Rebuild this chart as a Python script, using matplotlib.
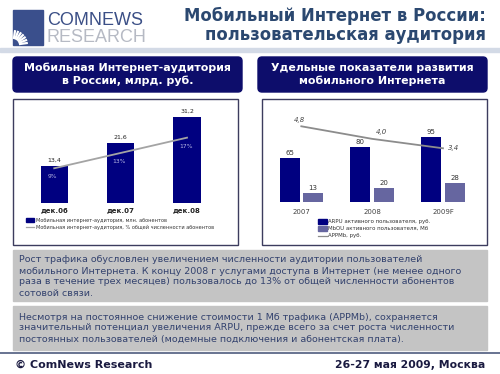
import matplotlib
matplotlib.use("Agg")
import matplotlib.pyplot as plt
import numpy as np
from matplotlib.patches import Rectangle, FancyBboxPatch

# ---------------- data ----------------
left_categories = ['дек.06', 'дек.07', 'дек.08']
audience_mln = [13.4, 21.6, 31.2]
audience_pct = [9, 13, 17]

right_categories = ['2007', '2008', '2009F']
arpu_rub = [65, 80, 95]
mbou_mb = [13, 20, 28]
appmb_rub = [4.8, 4.0, 3.4]

title_lines = ['Мобильный Интернет в России:', 'пользовательская аудитория']
left_header = 'Мобильная Интернет-аудитория\nв России, млрд. руб.'
right_header = 'Удельные показатели развития\nмобильного Интернета'
left_legend = ['Мобильная интернет-аудитория, млн. абонентов',
               'Мобильная интернет-аудитория, % общей численности абонентов']
right_legend = ['ARPU активного пользователя, руб.',
                'MbOU активного пользователя, Мб',
                'APPMb, руб.']
box1_lines = ['Рост трафика обусловлен увеличением численности аудитории пользователей',
              'мобильного Интернета. К концу 2008 г услугами доступа в Интернет (не менее одного',
              'раза в течение трех месяцев) пользовалось до 13% от общей численности абонентов',
              'сотовой связи.']
box2_lines = ['Несмотря на постоянное снижение стоимости 1 Мб трафика (APPMb), сохраняется',
              'значительный потенциал увеличения ARPU, прежде всего за счет роста численности',
              'постоянных пользователей (модемные подключения и абонентская плата).']
footer_left = '© ComNews Research'
footer_right = '26-27 мая 2009, Москва'

# ---------------- figure ----------------
W, H = 500, 374
fig = plt.figure(figsize=(W / 100, H / 100), dpi=100)
fig.patch.set_facecolor('white')

bg = fig.add_axes([0, 0, 1, 1])
bg.set_xlim(0, W)
bg.set_ylim(H, 0)
bg.axis('off')
bg.set_zorder(0)

def px_axes(x0, y0, x1, y1):
    return fig.add_axes([x0 / W, 1 - y1 / H, (x1 - x0) / W, (y1 - y0) / H])

NAVY = '#000080'
SLATE = '#6666a0'
TXT = '#33426e'

# logo
bg.add_patch(Rectangle((13, 10), 30, 35, color='#3a4f8c', zorder=1))
for ang in np.linspace(8, 82, 7):
    a = np.deg2rad(ang)
    bg.plot([13 + 6 * np.cos(a), 13 + 15 * np.cos(a)],
            [45 - 6 * np.sin(a), 45 - 15 * np.sin(a)],
            color='white', lw=1.6, solid_capstyle='butt', zorder=2)
bg.text(47, 20, 'COMNEWS', fontsize=13, family='Liberation Sans', color='#3b4f86',
        ha='left', va='center')
bg.text(47, 37, 'RESEARCH', fontsize=13, family='Liberation Sans', color='#b6bac4',
        ha='left', va='center')

# title
bg.text(486, 16, title_lines[0], fontsize=11.9, fontweight='bold', color='#2b4870',
        ha='right', va='center', family='DejaVu Sans')
bg.text(486, 35, title_lines[1], fontsize=11.9, fontweight='bold', color='#2b4870',
        ha='right', va='center', family='DejaVu Sans')

# separator band
bg.add_patch(Rectangle((0, 47.5), W, 4.5, color='#d3dae6', zorder=1))

# header boxes
for (x0, x1, txt) in [(13, 242, left_header), (258, 487, right_header)]:
    bg.add_patch(FancyBboxPatch((x0, 57), x1 - x0, 35,
                                boxstyle='round,pad=0,rounding_size=4',
                                facecolor='#0d0d6b', edgecolor='#0d0d6b', zorder=1))
    bg.text((x0 + x1) / 2, 74.5, txt, fontsize=7.9, fontweight='bold', color='white',
            ha='center', va='center', linespacing=1.3)

# chart panels
for (x0, x1) in [(13, 238), (262, 487)]:
    bg.add_patch(Rectangle((x0, 99), x1 - x0, 146, facecolor='white',
                           edgecolor='#3c3c5e', lw=1.0, zorder=1))

# ---------------- left chart ----------------
ax1 = px_axes(21, 105, 220.2, 202.7)
ax1.patch.set_alpha(0)
x = np.arange(len(left_categories))
ax1.bar(x, audience_mln, width=0.407, color=NAVY, zorder=2)
ax1.set_xlim(-0.5, 2.5)
ax1.set_ylim(0, 35.45)
for s in ax1.spines.values():
    s.set_visible(False)
ax1.set_yticks([])
ax1.set_xticks(x, left_categories)
ax1.tick_params(axis='x', length=0, pad=3.2, labelsize=5, colors='#222222')
for lab in ax1.get_xticklabels():
    lab.set_fontweight('bold')
for xi, v in zip(x, audience_mln):
    ax1.annotate(f'{v:.1f}'.replace('.', ','), (xi, v), xytext=(0, 2.2),
                 textcoords='offset points', ha='center', va='bottom',
                 fontsize=4.5, color='#222222')
ax1b = ax1.twinx()
ax1b.plot(x, audience_pct, color='#a4a4a4', lw=1.3, zorder=3)
ax1b.set_ylim(0, 25.54)
ax1b.axis('off')
for xi, p in zip(x, audience_pct):
    ax1b.annotate(f'{p}%', (xi, p), xytext=(-1, -6), textcoords='offset points',
                  ha='center', va='center', fontsize=4.3, color='#b8b8e4')

# left legend
bg.add_patch(Rectangle((26, 218), 8, 4, color=NAVY, zorder=2))
bg.text(35.5, 220, left_legend[0], fontsize=3.6, color='#333333', ha='left', va='center')
bg.plot([26, 34], [227, 227], color='#a4a4a4', lw=0.9)
bg.text(35.5, 227, left_legend[1], fontsize=3.6, color='#333333', ha='left', va='center')

# ---------------- right chart ----------------
ax2 = px_axes(265.9, 105, 478.4, 201.7)
ax2.patch.set_alpha(0)
xr = np.arange(len(right_categories))
off, bw = 0.165, 0.282
ax2.bar(xr - off, arpu_rub, width=bw, color=NAVY, zorder=2)
ax2.bar(xr + off, mbou_mb, width=bw, color=SLATE, zorder=2)
ax2.set_xlim(-0.5, 2.5)
ax2.set_ylim(0, 142.6)
for s in ax2.spines.values():
    s.set_visible(False)
ax2.set_yticks([])
ax2.set_xticks(xr, right_categories)
ax2.tick_params(axis='x', length=0, pad=5, labelsize=5, colors='#444444')
for xi, v in zip(xr, arpu_rub):
    ax2.annotate(f'{v}', (xi - off, v), xytext=(0, 1.5), textcoords='offset points',
                 ha='center', va='bottom', fontsize=5, color='#333333')
for xi, v in zip(xr, mbou_mb):
    ax2.annotate(f'{v}', (xi + off, v), xytext=(0, 1.5), textcoords='offset points',
                 ha='center', va='bottom', fontsize=5, color='#333333')
ax2b = ax2.twinx()
ax2b.plot(xr, appmb_rub, color='#8c8c8c', lw=1.3, zorder=3)
ax2b.set_ylim(0, 6.155)
ax2b.axis('off')
label_offsets = [((-1, 4.5), 'center'), ((7, 5), 'center'), ((3.5, 0), 'left')]
for xi, v, (xy, ha) in zip(xr, appmb_rub, label_offsets):
    ax2b.annotate(f'{v:.1f}'.replace('.', ','), (xi, v), xytext=xy,
                  textcoords='offset points', ha=ha, va='center',
                  fontsize=5, color='#444444', fontstyle='italic')

# right legend
bg.add_patch(Rectangle((318, 219), 9, 5, color=NAVY, zorder=2))
bg.text(328.5, 221.5, right_legend[0], fontsize=3.9, color='#333333', ha='left', va='center')
bg.add_patch(Rectangle((318, 226), 9, 5, color=SLATE, zorder=2))
bg.text(328.5, 228.5, right_legend[1], fontsize=3.9, color='#333333', ha='left', va='center')
bg.plot([318, 327], [235.7, 235.7], color='#8c8c8c', lw=0.9)
bg.text(328.5, 235.7, right_legend[2], fontsize=3.9, color='#333333', ha='left', va='center')

# ---------------- text boxes ----------------
bg.add_patch(Rectangle((13, 249.5), 474, 51, color='#c4c4c4', zorder=1))
for i, line in enumerate(box1_lines):
    bg.text(19, 260 + 11 * i, line, fontsize=6.83, color=TXT, ha='left', va='center')
bg.add_patch(Rectangle((13, 305.5), 474, 44, color='#c4c4c4', zorder=1))
for i, line in enumerate(box2_lines):
    bg.text(19, 317 + 11 * i, line, fontsize=6.83, color=TXT, ha='left', va='center')

# footer
bg.plot([0, W], [353, 353], color='#5c6888', lw=1.3)
bg.text(15, 365, footer_left, fontsize=8, fontweight='bold', color='#1a1a40',
        ha='left', va='center')
bg.text(485, 365, footer_right, fontsize=7.8, fontweight='bold', color='#1a1a40',
        ha='right', va='center')

fig.savefig('out.png', dpi=100, facecolor='white')
